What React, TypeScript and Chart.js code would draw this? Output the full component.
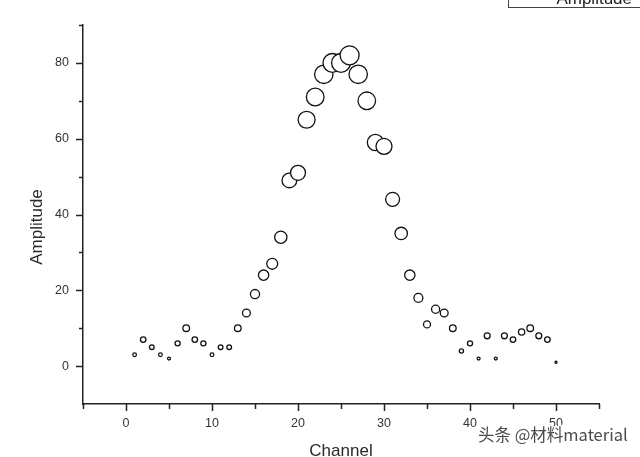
import { useEffect, useRef } from "react";
import { Chart, registerables } from "chart.js";

Chart.register(...registerables);

// ---- data ----
const channels = [
  1, 2, 3, 4, 5, 6, 7, 8, 9, 10, 11, 12, 13, 14, 15, 16, 17, 18, 19, 20, 21, 22, 23, 24, 25,
  26, 27, 28, 29, 30, 31, 32, 33, 34, 35, 36, 37, 38, 39, 40, 41, 42, 43, 44, 45, 46, 47, 48, 49, 50,
];
const amplitudes = [
  3, 7, 5, 3, 2, 6, 10, 7, 6, 3, 5, 5, 10, 14, 19, 24, 27, 34, 49, 51, 65, 71, 77, 80, 80,
  82, 77, 70, 59, 58, 44, 35, 24, 18, 11, 15, 14, 10, 4, 6, 2, 8, 2, 8, 7, 9, 10, 8, 7, 1,
];
const xTickLabels = [0, 10, 20, 30, 40, 50];
const yTickLabels = [0, 20, 40, 60, 80];
const seriesName = "Amplitude";
const xTitle = "Channel";
const yTitle = "Amplitude";
const watermark = "头条 @材料material";

const FONT = "'Liberation Sans', Arial, sans-serif";

const decorPlugin = {
  id: "decor",
  afterDraw(chart: any) {
    const ctx = chart.ctx as CanvasRenderingContext2D;
    const xs = chart.scales.x;
    const ys = chart.scales.y;
    const area = chart.chartArea;
    ctx.save();
    ctx.strokeStyle = "#222";
    ctx.lineWidth = 1.5;
    // x tick marks (major every 10, minor every 5)
    for (let v = xs.min; v <= xs.max + 1e-9; v += 5) {
      const px = Math.round(xs.getPixelForValue(v)) + 0.5;
      const len = v % 10 === 0 ? 7 : 5;
      ctx.beginPath();
      ctx.moveTo(px, area.bottom);
      ctx.lineTo(px, area.bottom + len);
      ctx.stroke();
    }
    // y tick marks (major every 20, minor every 10)
    for (let v = ys.min + 10; v <= ys.max + 1e-9; v += 10) {
      const py = Math.round(ys.getPixelForValue(v)) + 0.5;
      const len = v % 20 === 0 ? 7 : 4;
      ctx.beginPath();
      ctx.moveTo(area.left, py);
      ctx.lineTo(area.left - len, py);
      ctx.stroke();
    }

    // axis titles
    ctx.fillStyle = "#2a2a2a";
    ctx.font = `17px ${FONT}`;
    ctx.textAlign = "center";
    ctx.textBaseline = "alphabetic";
    ctx.fillText(xTitle, (area.left + area.right) / 2, 456);
    ctx.save();
    ctx.translate(42, 227);
    ctx.rotate(-Math.PI / 2);
    ctx.fillText(yTitle, 0, 0);
    ctx.restore();

    // legend box (cut off at the top-right corner)
    ctx.strokeStyle = "#444";
    ctx.lineWidth = 1;
    ctx.strokeRect(508.5, -20.5, 140, 28);
    ctx.fillStyle = "#222";
    ctx.font = `17px ${FONT}`;
    ctx.textAlign = "right";
    ctx.textBaseline = "alphabetic";
    ctx.fillText(chart.data.datasets[0].label, 632, 4);

    // watermark
    ctx.font = `16.5px 'Noto Sans CJK SC', sans-serif`;
    ctx.textAlign = "left";
    ctx.textBaseline = "alphabetic";
    ctx.lineWidth = 3;
    ctx.strokeStyle = "rgba(255,255,255,0.9)";
    ctx.strokeText(watermark, 478, 441);
    ctx.fillStyle = "#4a4a4a";
    ctx.fillText(watermark, 478, 441);
    ctx.restore();
  },
};

export default function App() {
  const canvasRef = useRef<HTMLCanvasElement | null>(null);

  useEffect(() => {
    if (!canvasRef.current) return;
    const points = channels.map((c, i) => ({ x: c, y: amplitudes[i] }));
    const chart = new Chart(canvasRef.current, {
      type: "scatter",
      data: {
        datasets: [
          {
            label: seriesName,
            data: points,
            pointStyle: "circle",
            backgroundColor: "#ffffff",
            borderColor: "#111",
            borderWidth: 1.3,
            pointRadius: (c: any) => 1.05 * Math.sqrt(Math.max(c.raw ? c.raw.y : 1, 0.5)),
            pointHoverRadius: (c: any) => 1.05 * Math.sqrt(Math.max(c.raw ? c.raw.y : 1, 0.5)),
          },
        ],
      },
      options: {
        animation: false,
        responsive: true,
        maintainAspectRatio: false,
        events: [],
        layout: { padding: { top: 25, right: 41, bottom: 0, left: 0 } },
        plugins: {
          legend: { display: false },
          tooltip: { enabled: false },
          title: { display: false },
        },
        scales: {
          x: {
            type: "linear",
            min: -5,
            max: 55,
            afterBuildTicks: (s: any) => {
              s.ticks = xTickLabels.map((v) => ({ value: v }));
            },
            afterFit: (s: any) => {
              s.height = 53;
            },
            grid: { display: false, drawTicks: false },
            border: { display: true, color: "#222", width: 1.5 },
            ticks: {
              padding: 12,
              color: "#333",
              font: { size: 12.5, family: FONT },
              maxRotation: 0,
              autoSkip: false,
            },
          },
          y: {
            type: "linear",
            min: -10,
            max: 90,
            afterBuildTicks: (s: any) => {
              s.ticks = yTickLabels.map((v) => ({ value: v }));
            },
            afterFit: (s: any) => {
              s.width = 83;
            },
            grid: { display: false, drawTicks: false },
            border: { display: true, color: "#222", width: 1.5 },
            ticks: {
              padding: 14,
              color: "#333",
              font: { size: 12.5, family: FONT },
              autoSkip: false,
            },
          },
        },
      },
      plugins: [decorPlugin],
    });
    return () => chart.destroy();
  }, []);

  return (
    <div
      style={{
        position: "fixed",
        left: 0,
        top: 0,
        width: 640,
        height: 457,
        overflow: "hidden",
        background: "#fff",
      }}
    >
      <canvas ref={canvasRef} />
    </div>
  );
}
